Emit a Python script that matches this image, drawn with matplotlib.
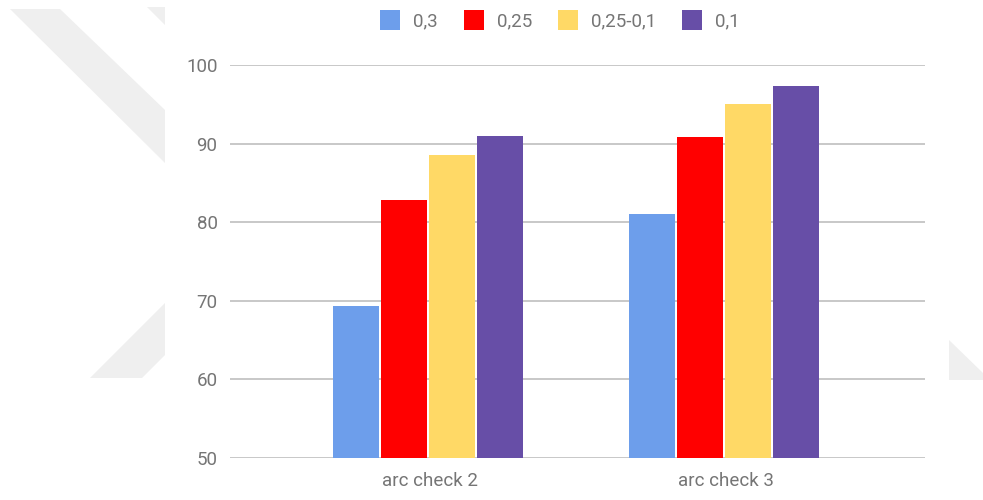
import numpy as np
import matplotlib
matplotlib.use("Agg")
import matplotlib.pyplot as plt
from matplotlib.patches import Polygon

# дані діаграми
categories = ["arc check 2", "arc check 3"]
series_names = ["0,3", "0,25", "0,25-0,1", "0,1"]
series_colors = ["#6d9eeb", "#ff0000", "#ffd966", "#674ea7"]
values_03 = [69.3, 81.0]
values_025 = [82.8, 90.8]
values_025_01 = [88.5, 95.0]
values_01 = [91.0, 97.3]
y_ticks = [50, 60, 70, 80, 90, 100]

all_values = [values_03, values_025, values_025_01, values_01]

plt.rcParams['font.family'] = ['Roboto', 'DejaVu Sans']
text_color = "#757575"

fig = plt.figure(figsize=(9.83, 5.0), dpi=100)
W, H = 983, 500


def px_poly(points, **kw):
    # точки в пікселях від верхнього лівого кута
    pts = [(x, H - y) for x, y in points]
    fig.patches.append(Polygon(pts, closed=True, transform=None, **kw))


# світлий водяний знак на тлі
wm = dict(facecolor="#efefef", edgecolor="none", zorder=0)
px_poly([(10, 9), (60, 9), (165, 110), (165, 163)], **wm)
px_poly([(147, 7), (165, 7), (165, 25)], **wm)
px_poly([(90, 378), (142, 378), (165, 355), (165, 303)], **wm)
px_poly([(949, 340), (983, 373), (983, 380), (949, 380)], **wm)

ax = fig.add_axes([230 / W, 1 - 458 / H, (925 - 230) / W, (458 - 65) / H])
ax.set_facecolor("none")

x = np.arange(len(categories))
step = 0.162
bar_w = 0.155
for i, (name, vals, col) in enumerate(zip(series_names, all_values, series_colors)):
    ax.bar(x + (i - 1.5) * step - 0.005, vals, width=bar_w, color=col, label=name, zorder=3)

ax.set_xlim(-0.674, 1.674)
ax.set_ylim(50, 100)
ax.set_yticks(y_ticks)
ax.set_xticks(x)
ax.set_xticklabels(categories)
ax.yaxis.grid(True, color="#c4c4c4", linewidth=1.3, zorder=0)
ax.set_axisbelow(True)
for s in ax.spines.values():
    s.set_visible(False)
ax.tick_params(axis="both", length=0, labelsize=13.5, labelcolor=text_color)
ax.tick_params(axis="y", pad=9)
ax.tick_params(axis="x", pad=10)

leg = fig.legend(loc="center", bbox_to_anchor=(560 / W, 1 - 20 / H), ncol=4,
                 frameon=False, fontsize=13.5, handlelength=1.05, handleheight=1.25,
                 handletextpad=0.7, columnspacing=1.4, labelcolor=text_color)

fig.savefig("out.png", dpi=100, facecolor="white")
